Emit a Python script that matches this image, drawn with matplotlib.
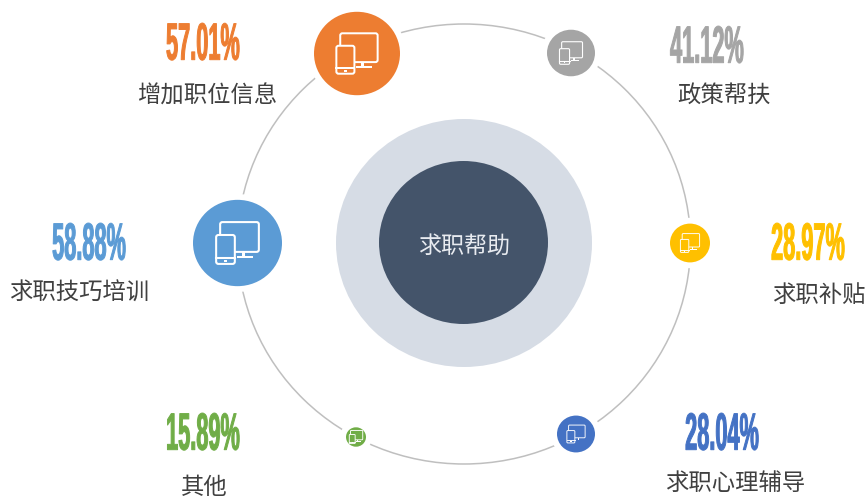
import matplotlib
matplotlib.use('Agg')
import matplotlib.pyplot as plt
from matplotlib.patches import Ellipse, FancyBboxPatch, Rectangle
from matplotlib.patheffects import AbstractPathEffect
from matplotlib.transforms import Affine2D

plt.rcParams['font.family'] = ['Noto Sans CJK SC', 'DejaVu Sans']

# data
categories = ['增加职位信息', '政策帮扶', '求职补贴', '求职心理辅导', '其他', '求职技巧培训']
values = [57.01, 41.12, 28.97, 28.04, 15.89, 58.88]
center_label = '求职帮助'

# layout, in pixels of the 866x498 picture
colors = ['#ED7D31', '#A5A5A5', '#FFC000', '#4472C4', '#70AD47', '#5B9BD5']
bubble_xy = [(357, 53.5), (571, 53), (690, 243), (576, 434), (356, 437), (237.5, 243)]
bubble_r = [43, 24, 20, 19, 10, 44.5]
value_xy = [(203, 45), (707, 48), (808, 245), (722, 435), (203, 435), (89, 245)]
label_xy = [(207.5, 96), (724, 95), (819, 295), (735, 483), (204, 487), (79, 293)]
squash = 0.97  # the picture is a little flattened, circles are not quite round


class Squeeze(AbstractPathEffect):
    """stretch the text around its centre, the percent figures are tall and narrow"""

    def __init__(self, cx, cy, sx, sy, stroke):
        super().__init__()
        self.cx = cx
        self.cy = cy
        self.sx = sx
        self.sy = sy
        self.stroke = stroke

    def draw_path(self, renderer, gc, tpath, affine, rgbFace=None):
        t = affine + Affine2D().translate(-self.cx, -self.cy).scale(self.sx, self.sy).translate(self.cx, self.cy)
        gc0 = renderer.new_gc()
        gc0.copy_properties(gc)
        gc0.set_foreground(rgbFace)
        gc0.set_linewidth(self.stroke)
        renderer.draw_path(gc0, tpath, t, rgbFace)
        gc0.restore()


def draw_icon(ax, x, y, r, fill):
    # monitor + phone, sizes relative to the bubble
    k = max(r, 14)
    lw = max(0.65, k / 30)
    mon = FancyBboxPatch((x - 0.39 * k, y - 0.47 * k), 0.87 * k, 0.67 * k,
                         boxstyle='round,pad=0,rounding_size=%f' % (0.05 * k),
                         fc='none', ec='white', lw=lw, zorder=5)
    ax.add_patch(mon)
    ax.add_patch(Rectangle((x + 0.1 * k, y + 0.2 * k), 0.06 * k, 0.12 * k, fc='white', ec='none', zorder=5))
    ax.add_patch(Rectangle((x - 0.02 * k, y + 0.3 * k), 0.36 * k, 0.04 * k, fc='white', ec='none', zorder=5))
    phone = FancyBboxPatch((x - 0.48 * k, y - 0.18 * k), 0.42 * k, 0.65 * k,
                           boxstyle='round,pad=0,rounding_size=%f' % (0.05 * k),
                           fc=fill, ec='white', lw=lw, zorder=6)
    ax.add_patch(phone)
    ax.plot([x - 0.48 * k, x - 0.06 * k], [y + 0.34 * k, y + 0.34 * k], color='white', lw=lw, zorder=7)
    ax.add_patch(Rectangle((x - 0.31 * k, y + 0.38 * k), 0.08 * k, 0.05 * k, fc='white', ec='none', zorder=7))


fig = plt.figure(figsize=(8.66, 4.98), dpi=100, facecolor='white')
ax = fig.add_axes([0, 0, 1, 1])
ax.set_xlim(0, 866)
ax.set_ylim(498, 0)
ax.axis('off')

# rings
ax.add_patch(Ellipse((464, 244), 453, 440, fc='none', ec='#BFBFBF', lw=1.1, zorder=1))
ax.add_patch(Ellipse((464, 243), 256, 248, fc='#D6DCE5', ec='none', zorder=2))
ax.add_patch(Ellipse((463.5, 242.5), 169, 163, fc='#44546A', ec='none', zorder=3))
ax.text(464.5, 246, center_label, color='#E8EBF0', fontsize=16.6, ha='center', va='center', zorder=4)

for i in range(len(categories)):
    x, y = bubble_xy[i]
    r = bubble_r[i]
    ax.add_patch(Ellipse((x, y), 2 * r + 12, (2 * r + 12) * squash, fc='white', ec='none', zorder=2))
    ax.add_patch(Ellipse((x, y), 2 * r, 2 * r * squash, fc=colors[i], ec='none', zorder=4))
    draw_icon(ax, x, y, r, colors[i])

    vx, vy = value_xy[i]
    txt = ax.text(vx, vy, '%.2f%%' % values[i], color=colors[i], fontsize=18,
                  family='Liberation Sans', fontweight='bold', ha='center', va='center')
    txt.set_path_effects([Squeeze(vx, 498 - vy, 0.87, 2.1, 0.7)])

    lx, ly = label_xy[i]
    ax.text(lx, ly, categories[i], color='#404040', fontsize=16.8, ha='center', va='center')

fig.savefig('out.png', dpi=100, facecolor='white')
